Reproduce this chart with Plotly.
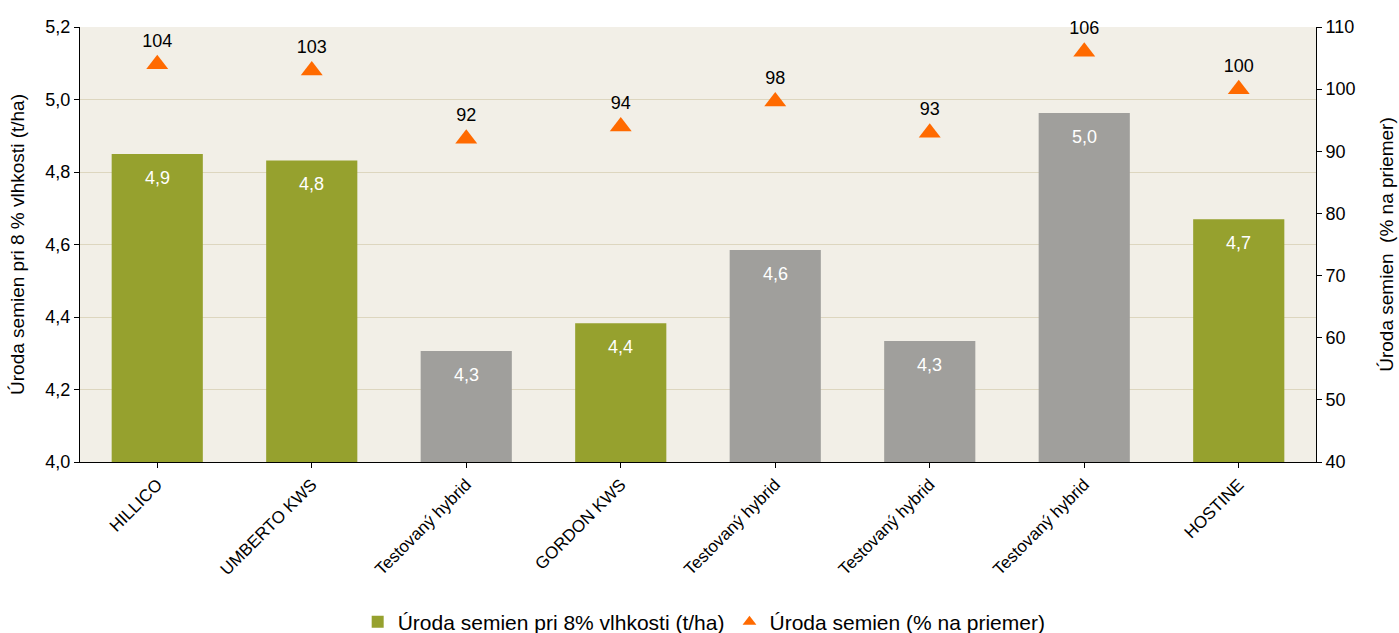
import plotly.graph_objects as go

categories = ["HILLICO", "UMBERTO KWS", "Testovaný hybrid", "GORDON KWS",
              "Testovaný hybrid", "Testovaný hybrid", "Testovaný hybrid", "HOSTINE"]
yield_t = [4.85, 4.832, 4.306, 4.383, 4.585, 4.334, 4.963, 4.67]
yield_labels = ["4,9", "4,8", "4,3", "4,4", "4,6", "4,3", "5,0", "4,7"]
yield_pct = [104, 103, 92, 94, 98, 93, 106, 100]
is_tested = [False, False, True, False, True, True, True, False]

GREEN = "#96a12e"
GRAY = "#a09f9c"
ORANGE = "#ff6a00"
FAMILY = "Liberation Sans, Arial, sans-serif"

x = list(range(len(categories)))
colors = [GRAY if t else GREEN for t in is_tested]

fig = go.Figure()
fig.add_trace(go.Bar(
    x=x, y=yield_t, base=0, marker=dict(color=colors, line=dict(width=0)),
    width=0.59, name="Úroda semien pri 8% vlhkosti (t/ha)", yaxis="y",
))
fig.add_trace(go.Scatter(
    x=x, y=yield_pct, mode="markers+text", yaxis="y2",
    marker=dict(symbol="triangle-up", color=ORANGE, size=19),
    text=[str(v) for v in yield_pct], textposition="top center",
    textfont=dict(color="black", size=18, family=FAMILY),
    name="Úroda semien (% na priemer)", cliponaxis=False,
))

annotations = []
for xi, v, lab in zip(x, yield_t, yield_labels):
    annotations.append(dict(
        x=xi, y=v, xref="x", yref="y", text=lab, showarrow=False,
        yanchor="middle", yshift=-24,
        font=dict(color="white", size=18, family=FAMILY),
    ))

fig.update_layout(
    width=1399, height=633,
    margin=dict(l=80, r=83, t=27, b=171, autoexpand=False),
    paper_bgcolor="white", plot_bgcolor="#f2efe7",
    font=dict(family=FAMILY, size=18, color="black"),
    annotations=annotations,
    showlegend=True,
    legend=dict(orientation="h", x=0.505, xanchor="center", y=-0.368, yanchor="middle",
                font=dict(size=21, family=FAMILY, color="black"),
                itemsizing="constant", traceorder="normal"),
    xaxis=dict(
        tickmode="array", tickvals=x, ticktext=categories, tickangle=-45,
        range=[-0.5, 7.5], showgrid=False, ticks="outside", ticklen=5,
        tickson="boundaries", tickcolor="black", showline=True, linecolor="black",
        tickfont=dict(size=17, family=FAMILY), automargin=False,
    ),
    yaxis=dict(
        range=[4.0, 5.2], tickvals=[4.0, 4.2, 4.4, 4.6, 4.8, 5.0, 5.2],
        ticktext=["4,0", "4,2", "4,4", "4,6", "4,8", "5,0", "5,2"],
        showgrid=True, gridcolor="#ddd6bf", gridwidth=1,
        ticks="outside", ticklen=5, tickcolor="black",
        showline=True, linecolor="black", zeroline=False,
        title=dict(text="Úroda semien pri 8 % vlhkosti (t/ha)", standoff=15,
                   font=dict(size=19, family=FAMILY)),
        tickfont=dict(size=18, family=FAMILY), automargin=False,
    ),
    yaxis2=dict(
        range=[40, 110], tickvals=list(range(40, 111, 10)),
        overlaying="y", side="right", showgrid=False,
        ticks="outside", ticklen=5, tickcolor="black",
        showline=True, linecolor="black", zeroline=False,
        title=dict(text="Úroda semien \u00a0(% na priemer)", standoff=25,
                   font=dict(size=19, family=FAMILY)),
        tickfont=dict(size=18, family=FAMILY), automargin=False,
    ),
)

fig.write_html(
    "out.html",
    config={"displayModeBar": False},
    post_script="document.body.style.margin='0';document.body.style.overflow='hidden';",
)
